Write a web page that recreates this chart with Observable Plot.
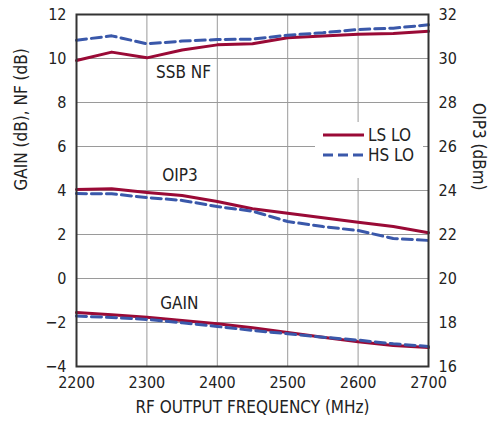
<!DOCTYPE html>
<html>
<head>
<meta charset="utf-8">
<script src="https://cdn.jsdelivr.net/npm/d3@7"></script>
<script src="https://cdn.jsdelivr.net/npm/@observablehq/plot@0.6"></script>
<style>
  body { margin: 0; background: #fff; }
  #wrap { position: relative; width: 495px; height: 425px; font-family: "Liberation Sans Narrow", "DejaVu Sans Condensed", sans-serif; }
  #legend { position: absolute; left: 315px; top: 122px; width: 108px; height: 56px; background: #fff; }
  #legend .row { position: absolute; left: 0; height: 20px; display: flex; align-items: center; font-size: 17px; color: #222; }
  #legend svg { margin-left: 8px; margin-right: 4px; }
</style>
</head>
<body>
<div id="wrap"></div>
<script>
const freq = [2200, 2250, 2300, 2350, 2400, 2450, 2500, 2550, 2600, 2650, 2700];
const nfLS = [9.91, 10.29, 10.03, 10.39, 10.62, 10.67, 10.94, 11.02, 11.10, 11.14, 11.24];
const nfHS = [10.83, 11.03, 10.67, 10.79, 10.86, 10.88, 11.06, 11.17, 11.32, 11.38, 11.53];
const oip3LS = [24.05, 24.08, 23.91, 23.77, 23.50, 23.17, 22.97, 22.76, 22.56, 22.36, 22.08];
const oip3HS = [23.86, 23.85, 23.68, 23.55, 23.27, 23.06, 22.59, 22.36, 22.18, 21.82, 21.73];
const gainLS = [-1.55, -1.65, -1.76, -1.91, -2.06, -2.24, -2.45, -2.67, -2.88, -3.05, -3.14];
const gainHS = [-1.71, -1.77, -1.86, -2.01, -2.18, -2.36, -2.51, -2.67, -2.80, -2.97, -3.09];

const xTicks = [2200, 2300, 2400, 2500, 2600, 2700];
const yTicks = [-4, -2, 0, 2, 4, 6, 8, 10, 12];
const rightTicks = [16, 18, 20, 22, 24, 26, 28, 30, 32];
const oip3Offset = 20; // right axis (dBm) = left axis + 20

const seriesNames = ["LS LO", "HS LO"];
const curveLabels = [
  {name: "SSB NF", f: 2352, v: 9.36},
  {name: "OIP3", f: 2347, v: 4.68},
  {name: "GAIN", f: 2346, v: -1.14}
];
const axisLabels = {x: "RF OUTPUT FREQUENCY (MHz)", yLeft: "GAIN (dB), NF (dB)", yRight: "OIP3 (dBm)"};

const RED = "#9a0a36", BLUE = "#3a58aa";

function rows(vals, off = 0) { return freq.map((f, i) => ({f, v: vals[i] - off})); }

const lsData = [rows(nfLS), rows(oip3LS, oip3Offset), rows(gainLS)];
const hsData = [rows(nfHS), rows(oip3HS, oip3Offset), rows(gainHS)];

const FONT = "'Liberation Sans Narrow', 'DejaVu Sans Condensed', sans-serif";

const plot = Plot.plot({
  width: 495,
  height: 425,
  marginLeft: 76,
  marginRight: 67,
  marginTop: 14,
  marginBottom: 59,
  style: {fontFamily: FONT, fontSize: "17px", color: "#222", background: "#fff"},
  x: {domain: [2200, 2700]},
  y: {domain: [-4, 12]},
  marks: [
    Plot.gridX(xTicks, {stroke: "#9a9a9a", strokeOpacity: 1, strokeWidth: 1}),
    Plot.gridY(yTicks, {stroke: "#9a9a9a", strokeOpacity: 1, strokeWidth: 1}),
    Plot.axisX(xTicks, {tickSize: 0, tickPadding: 10, label: null, fontSize: 16, tickFormat: (d) => String(d)}),
    Plot.axisY(yTicks, {anchor: "left", tickSize: 0, tickPadding: 10, label: null, fontSize: 16}),
    Plot.axisY(yTicks, {anchor: "right", tickSize: 0, tickPadding: 10, label: null, fontSize: 16,
      tickFormat: (d) => String(rightTicks[yTicks.indexOf(d)])}),
    ...lsData.map(d => Plot.line(d, {x: "f", y: "v", stroke: RED, strokeWidth: 3})),
    ...hsData.map(d => Plot.line(d, {x: "f", y: "v", stroke: BLUE, strokeWidth: 3, strokeDasharray: "10,5"})),
    Plot.text(curveLabels, {x: "f", y: "v", text: "name", fontSize: 17, fill: "#222"}),
    Plot.frame({stroke: "#333", strokeWidth: 2}),
    Plot.text([axisLabels.x], {frameAnchor: "bottom", dy: 46, fontSize: 17, fill: "#222"}),
    Plot.text([axisLabels.yLeft], {frameAnchor: "left", rotate: -90, dx: -55, fontSize: 17, fill: "#222"}),
    Plot.text([axisLabels.yRight], {frameAnchor: "right", rotate: 90, dx: 50, fontSize: 17, fill: "#222"})
  ]
});

const wrap = document.getElementById("wrap");
wrap.appendChild(plot);

// Legend overlay
const legend = document.createElement("div");
legend.id = "legend";
const styles = [{stroke: RED, dash: null}, {stroke: BLUE, dash: "10,5"}];
seriesNames.forEach((name, i) => {
  const row = document.createElement("div");
  row.className = "row";
  row.style.top = (3 + i * 20) + "px";
  const s = styles[i];
  row.innerHTML = `<svg width="41" height="6"><line x1="0" y1="3" x2="41" y2="3" stroke="${s.stroke}" stroke-width="3" ${s.dash ? `stroke-dasharray="${s.dash}"` : ""}/></svg><span>${name}</span>`;
  legend.appendChild(row);
});
wrap.appendChild(legend);
</script>
</body>
</html>
